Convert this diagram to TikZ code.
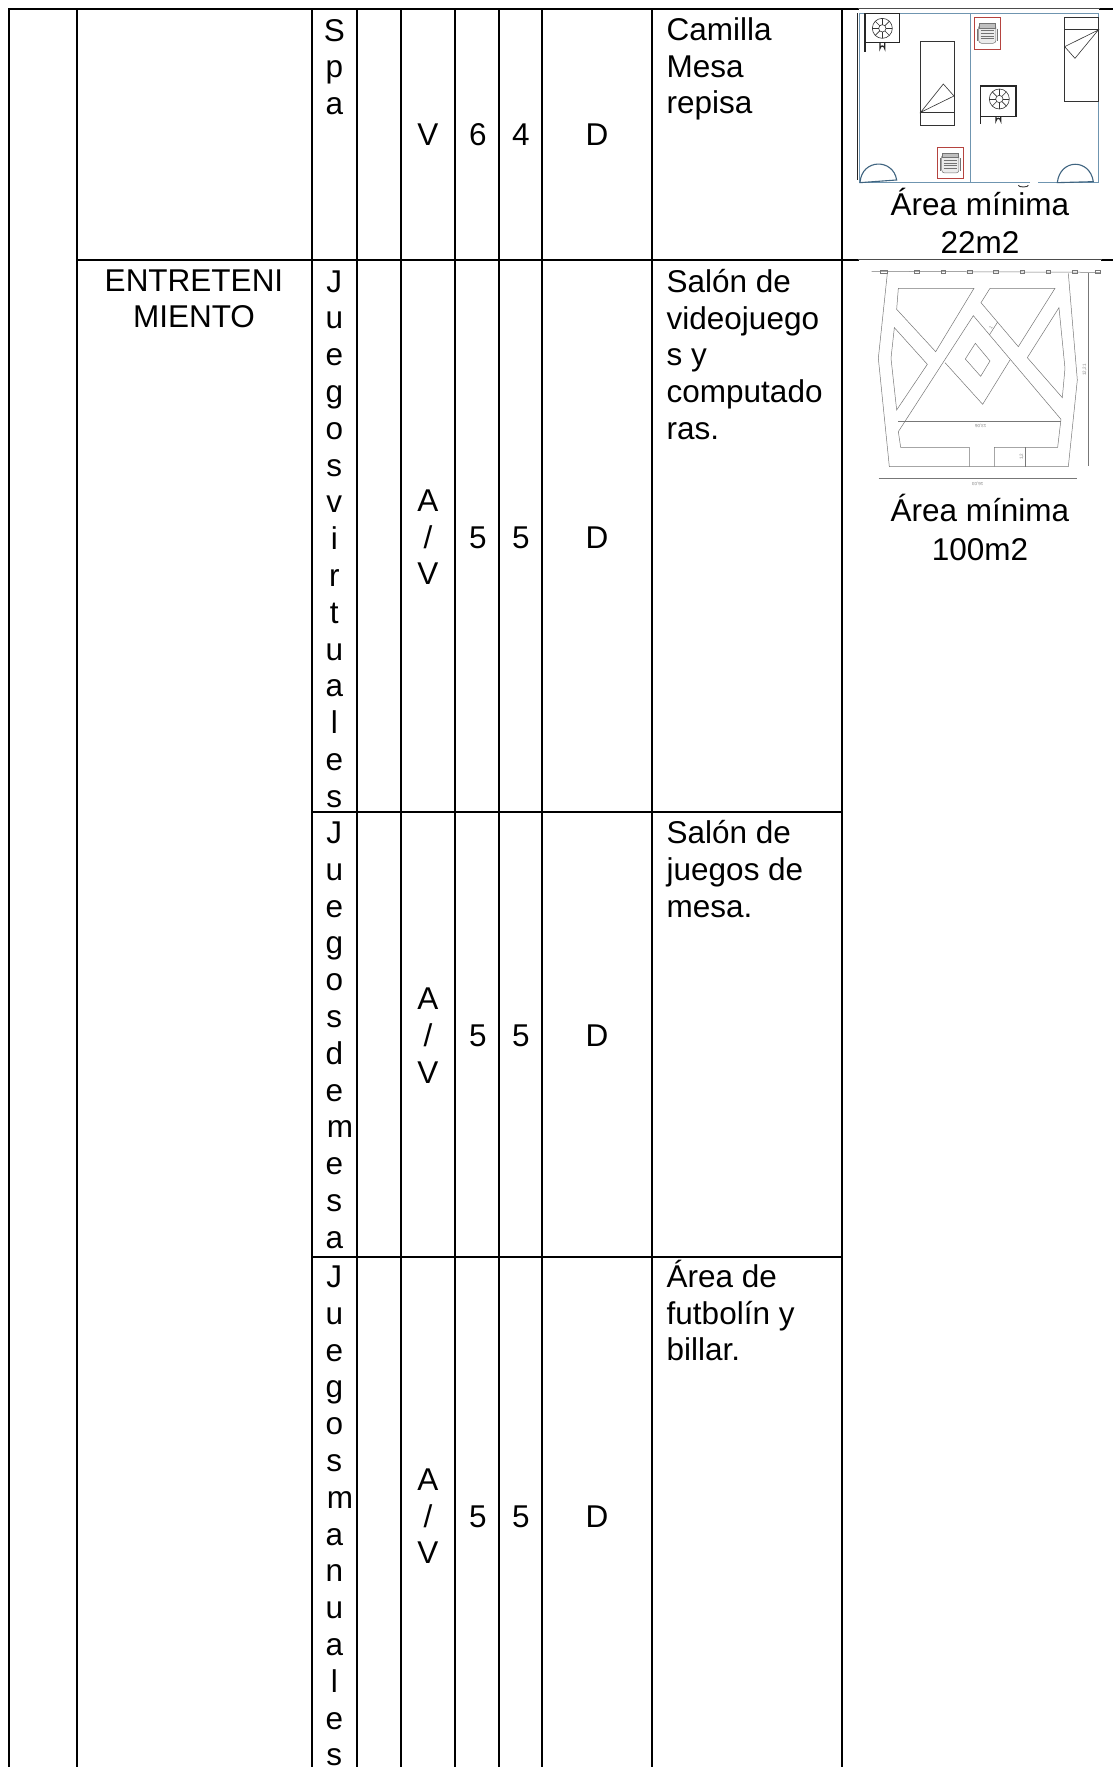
\documentclass[tikz,border=0pt]{standalone}
\usepackage{fontspec}
\setmainfont{Liberation Sans}
\definecolor{planblue}{HTML}{6F95B0}
\definecolor{doorblue}{HTML}{3F6480}
\definecolor{chairred}{HTML}{B5433F}
\definecolor{plangray}{HTML}{777777}
\tikzset{
  x=1pt,y=-1pt,
  tableline/.style={line width=2pt,black,line cap=rect},
  thinline/.style={line width=0.6pt,black!70},
  celltext/.style={inner sep=0pt,anchor=base,font=\fontsize{31.5}{36.8}\selectfont},
  lefttext/.style={celltext,anchor=base west},
  acline/.style={line width=1.3pt,black!85},
  wall/.style={line width=0.9pt,planblue},
  door/.style={line width=1.1pt,doorblue},
  bedline/.style={line width=0.6pt,black!80},
  chairbox/.style={line width=0.9pt,chairred},
  chairbit/.style={line width=0.5pt,black!55},
  cad/.style={line width=0.5pt,plangray},
  cadtext/.style={inner sep=0pt,text=black!50,font=\fontsize{4.5}{5}\selectfont},
}
\newcommand{\colletters}[2]{%
  \foreach \ch/\xx [count=\i from 0] in {#2}{
    \node[celltext] (#1\i) at (\xx,{#1+\i*36.8}) {\ch};
  }%
}
\newcommand{\accol}[1]{%
  \node[celltext] (a#1) at (428,#1-36.8) {A};
  \node[celltext] (s#1) at (428,#1) {/};
  \node[celltext] (v#1) at (428,#1+36.8) {V};
  \node[celltext] (f#1) at (478,#1) {5};
  \node[celltext] (g#1) at (521,#1) {5};
  \node[celltext] (d#1) at (597,#1) {D};
}
\newcommand{\acunit}[2]{%
  \begin{scope}[shift={(#1,#2)}]
    \draw[bedline] (0,0) circle (30) (0,0) circle (11);
    \foreach \a in {0,45,...,315}{\draw[bedline] (\a:11) -- (\a:30);}
  \end{scope}%
}
\newcommand{\chairicon}[2]{%
  \begin{scope}[shift={(#1,#2)}]
    \draw[chairbox] (-39,-47) rectangle (39,47);
    \draw[chairbit,fill=black!8,rounded corners=3pt] (-26,-27) rectangle (26,30);
    \draw[chairbit,fill=black!25] (-24,-30) rectangle (24,-16);
    \foreach \yy in {-8,0,8,16}{\draw[chairbit] (-20,\yy) -- (20,\yy);}
    \draw[chairbit] (-30,-14) -- (-30,24) (30,-14) -- (30,24);
  \end{scope}%
}
\begin{document}
\begin{tikzpicture}
\useasboundingbox (0,0) rectangle (1113,1767);
\fill[white] (0,0) rectangle (1113,1767);

% table rules
\draw[tableline] (9,8.5) -- (858,8.5);
\draw[tableline] (1100,8.5) -- (1113,8.5);
\draw[thinline] (858,8.5) -- (1100,8.5);
\draw[tableline] (77,259.5) -- (858,259.5);
\draw[tableline] (1102,259.5) -- (1113,259.5);
\draw[thinline] (858,259.5) -- (1102,259.5);
\draw[tableline] (312,812) -- (842,812);
\draw[tableline] (312,1256.5) -- (842,1256.5);
\foreach \xx in {9,77,312,357,401,455,499,542,652,842}{
  \draw[tableline,line cap=butt] (\xx,8) -- (\xx,1767);
}

% first row
\colletters{41}{S/334.3,p/334.3,a/334.3}
\node[celltext] (v1) at (428,145.5) {V};
\node[celltext] (n1) at (478,145.5) {6};
\node[celltext] (n2) at (521,145.5) {4};
\node[celltext] (d1) at (597,145.5) {D};
\node[lefttext] (c1) at (666.5,40.5) {Camilla};
\node[lefttext] (c2) at (666.5,77) {Mesa};
\node[lefttext] (c3) at (666.5,113.5) {repisa};

% group label
\node[celltext] (e1) at (194,291) {ENTRETENI};
\node[celltext] (e2) at (194,327.5) {MIENTO};

% second row
\colletters{292}{J/334.3,u/334.3,e/334.3,g/334.3,o/334.3,s/334.3,v/334.3,i/334.3,r/334.3,t/334.3,u/334.3,a/334.3,l/334.3,e/334.3,s/334.3}
\accol{548}
\node[lefttext] (t1) at (666.5,292) {Salón de};
\node[lefttext] (t2) at (666.5,329) {videojuego};
\node[lefttext] (t3) at (666.5,365.5) {s y};
\node[lefttext] (t4) at (666.5,402.5) {computado};
\node[lefttext] (t5) at (666.5,439) {ras.};

% third row
\colletters{843.5}{J/334.3,u/334.3,e/334.3,g/334.3,o/334.3,s/334.3,d/334.3,e/334.3,m/340,e/334.3,s/334.3,a/334.3}
\accol{1046.5}
\node[lefttext] (u1) at (666.5,843.5) {Salón de};
\node[lefttext] (u2) at (666.5,880) {juegos de};
\node[lefttext] (u3) at (666.5,917) {mesa.};

% fourth row
\colletters{1287.5}{J/334.3,u/334.3,e/334.3,g/334.3,o/334.3,s/334.3,m/340,a/334.3,n/334.3,u/334.3,a/334.3,l/334.3,e/334.3,s/334.3}
\accol{1527}
\node[lefttext] (w1) at (666.5,1287.5) {Área de};
\node[lefttext] (w2) at (666.5,1324) {futbolín y};
\node[lefttext] (w3) at (666.5,1360.5) {billar.};

% right column captions
\node[celltext] (k1) at (980,215) {Área mínima};
\node[celltext] (k2) at (980,253) {22m2};
\node[celltext] (k3) at (980,521.5) {Área mínima};
\node[celltext] (k4) at (980,560) {100m2};

% plan 1
\begin{scope}[shift={(830,0)},x=0.3333pt,y=-0.3333pt]
  \draw[wall] (88,548) -- (88,40) -- (806,40) -- (806,546) -- (88,546);
  \draw[wall] (422,40) -- (422,546);
  \draw[line width=1.3pt,black!85] (82,40) -- (82,540);
  \draw[white,line width=1.5pt] (600,546) -- (625,546);
  \draw[line width=0.9pt,black!80] (565,556) arc (180:0:15 and 5);
  % units
  \draw[acline] (105,155) -- (105,40) (105,128) -- (208,128) -- (208,40) (108,40) -- (208,40);
  \draw[acline] (150,128) -- (150,145) arc (180:360:7) -- (164,128);
  \acunit{157}{85}
  \draw[acline] (452,372) -- (452,258) -- (558,258) -- (558,350) -- (452,350);
  \draw[acline] (498,350) -- (498,362) arc (180:360:7) -- (512,350);
  \acunit{508}{297}
  % beds
  \draw[bedline] (270,124) rectangle (372,376) (270,337) -- (372,337);
  \draw[bedline] (272,337) -- (340,252) -- (372,288) -- cycle;
  \draw[bedline] (704,52) rectangle (805,303) (704,88) -- (805,88);
  \draw[bedline] (805,90) -- (704,140) -- (735,175) -- cycle;
  % chairs
  \chairicon{472}{100}
  \chairicon{361}{489}
  % doors
  \draw[door] (90,548) .. controls (95,475) and (190,475) .. (200,540) -- cycle;
  \draw[door] (682,548) .. controls (690,475) and (780,475) .. (790,545) -- cycle;
\end{scope}

% plan 2
\begin{scope}[shift={(830,260)},x=0.3333pt,y=-0.3333pt]
  \draw[cad] (125,34) -- (810,37);
  \foreach \xx in {260,340,420,497,577,655,735,803}{\draw[cad] (\xx-7,30) rectangle (\xx+7,40);}
  \draw[cad] (152,30) rectangle (172,40);
  \draw[cad] (172,40) -- (145,295) -- (178,620) -- (715,620) -- (742,360) -- (715,40);
  \draw[cad] (205,85) -- (432,85) -- (317,275) -- (200,148) -- cycle;
  \draw[cad] (480,85) -- (675,85) -- (565,260) -- (453,128) -- cycle;
  \draw[cad] (193,203) -- (292,313) -- (200,450) -- (183,295) -- cycle;
  \draw[cad] (687,143) -- (705,325) -- (697,413) -- (592,293) -- cycle;
  \draw[cad] (693,478) -- (430,167) -- (205,515) -- (212,562) -- (418,562) -- (418,620)
             (493,620) -- (493,562) -- (683,562) -- (693,478);
  \draw[cad] (205,483) -- (693,483);
  \draw[cad] (345,308) -- (458,433) -- (540,300);
  \draw[cad] (436,250) -- (480,303) -- (452,349) -- (406,297) -- cycle;
  \draw[cad] (478,225) -- (503,186);
  \draw[cad] (585,562) -- (585,620);
  \draw[cad] (775,40) -- (775,617);
  \draw[cad] (146,656) -- (742,656);
  \node[cadtext,rotate=60] (dim1) at (483,203) {1};
  \node[cadtext,rotate=90] (dim2) at (575,590) {1,2};
  \node[cadtext,rotate=180] (dim3) at (452,498) {13,06};
  \node[cadtext,rotate=180] (dim4) at (443,672) {16,03};
  \node[cadtext,rotate=90] (dim5) at (764,330) {12,21};
\end{scope}
\end{tikzpicture}
\end{document}
